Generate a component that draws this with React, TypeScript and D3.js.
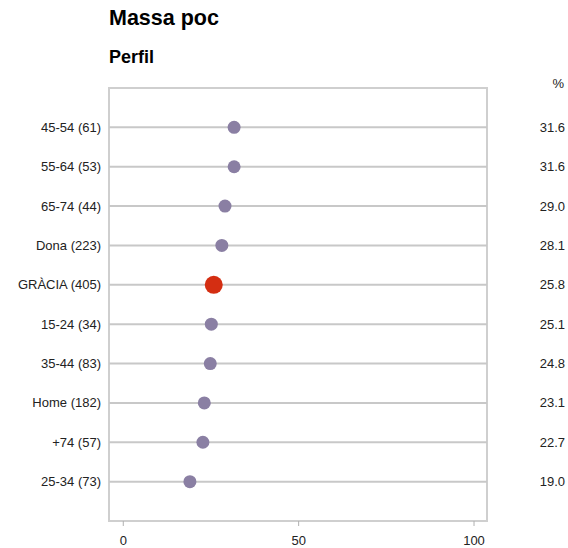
import React from "react";
import * as d3 from "d3";

const categories = ["45-54 (61)", "55-64 (53)", "65-74 (44)", "Dona (223)", "GRÀCIA (405)", "15-24 (34)", "35-44 (83)", "Home (182)", "+74 (57)", "25-34 (73)"];
const values = [31.6, 31.6, 29.0, 28.1, 25.8, 25.1, 24.8, 23.1, 22.7, 19.0];
const highlight = "GRÀCIA (405)";
const xTicks = [0, 50, 100];
const title = "Massa poc";
const subtitle = "Perfil";

export default function App() {
  const W = 568, H = 548;
  const left = 109, right = 487, top = 88, bottom = 521;
  const x = d3.scaleLinear().domain([-4.07, 103.7]).range([left, right]);
  const y = d3.scalePoint<string>().domain(categories).range([top, bottom]).padding(1);
  const font = "Arial, 'Liberation Sans', Helvetica, sans-serif";
  return (
    <svg width={W} height={H} style={{ position: "absolute", left: 0, top: 0 }} fontFamily={font}>
      <text x={109} y={25} fontSize={21.5} fontWeight="bold" fill="#000">{title}</text>
      <text x={109} y={63} fontSize={18} fontWeight="bold" fill="#000">{subtitle}</text>
      <text x={564} y={88} fontSize={13} textAnchor="end" fill="#222">%</text>
      <rect x={left} y={top} width={right - left} height={bottom - top} fill="none" stroke="#cfcfcf" strokeWidth={2} />
      {categories.map((c, i) => {
        const cy = y(c)!;
        const isH = c === highlight;
        return (
          <g key={c}>
            <line x1={left} x2={right} y1={cy} y2={cy} stroke="#c8c8c8" strokeWidth={2} />
            <text x={101} y={cy} dy="0.35em" fontSize={13} textAnchor="end" fill="#222">{c}</text>
            <text x={565} y={cy} dy="0.35em" fontSize={13} textAnchor="end" fill="#222">{values[i].toFixed(1)}</text>
            <circle cx={x(values[i])} cy={cy} r={isH ? 9 : 6.5} fill={isH ? "#d42e12" : "#8a7fa3"} />
          </g>
        );
      })}
      {xTicks.map((t) => (
        <g key={t}>
          <line x1={x(t)} x2={x(t)} y1={bottom} y2={bottom + 5} stroke="#b0b0b0" strokeWidth={1} />
          <text x={x(t)} y={544.5} fontSize={13} textAnchor="middle" fill="#222">{t}</text>
        </g>
      ))}
    </svg>
  );
}
